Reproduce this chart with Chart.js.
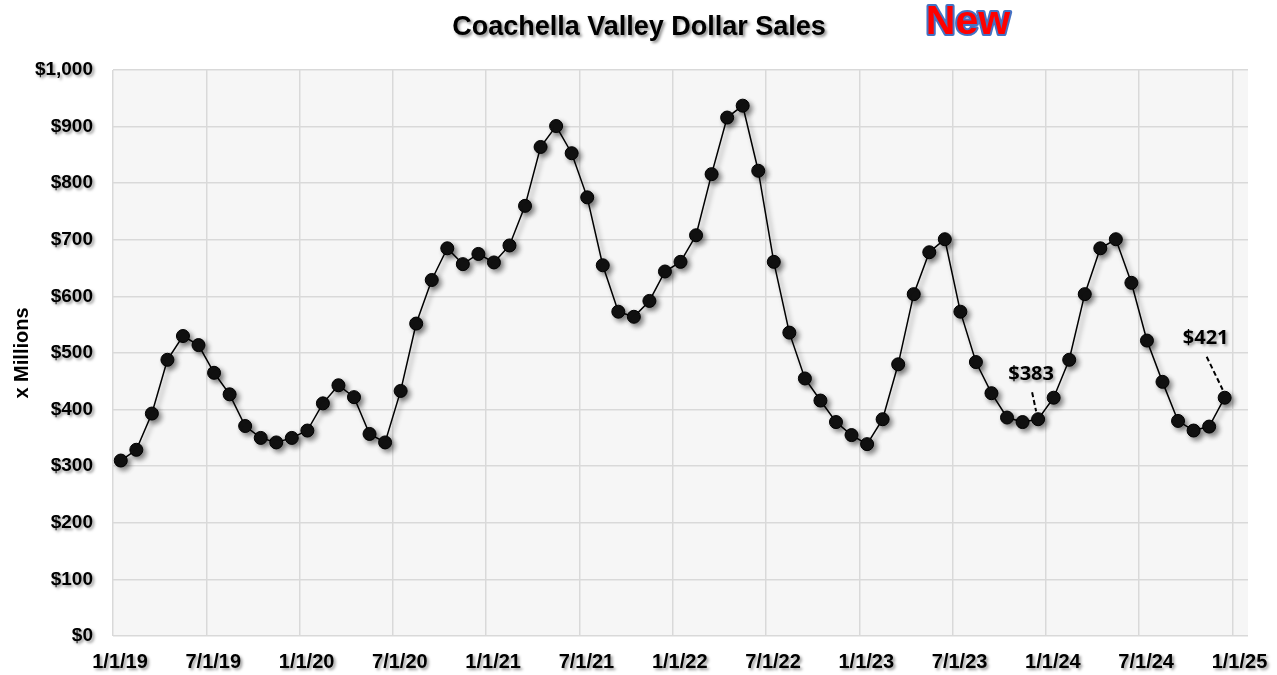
<!DOCTYPE html>
<html>
<head>
<meta charset="utf-8">
<title>Coachella Valley Dollar Sales</title>
<script src="https://cdn.jsdelivr.net/npm/chart.js@4.4.1/dist/chart.umd.min.js"></script>
<style>
    body { margin: 0; background: #ffffff; }
    #wrap { width: 1277px; height: 675px; }
</style>
</head>
<body>
<div id="wrap"><canvas id="sales-chart" width="1277" height="675"></canvas></div>
<script>
// Monthly dollar sales, x millions (Jan 2019 - Dec 2024)
const years = ['19', '20', '21', '22', '23', '24'];
const months = [];
years.forEach(y => {
    for (let m = 1; m <= 12; m++) months.push(m + '/15/' + y);
});

const sales = [
    310, 329, 393, 488, 530, 514, 465, 427, 371, 350, 342, 350,
    363, 411, 443, 422, 357, 342, 433, 552, 629, 685, 657, 675,
    660, 690, 760, 864, 901, 853, 775, 655, 573, 564, 592, 644,
    661, 708, 816, 916, 937, 822, 661, 536, 455, 416, 378, 355,
    339, 383, 480, 604, 678, 701, 573, 484, 429, 386, 378, 383,
    421, 488, 604, 685, 701, 624, 522, 449, 380, 363, 370, 421
];

const xTickLabels = ['1/1/19', '7/1/19', '1/1/20', '7/1/20', '1/1/21', '7/1/21', '1/1/22',
    '7/1/22', '1/1/23', '7/1/23', '1/1/24', '7/1/24', '1/1/25'];

// points that get a callout label
const calloutIndex = [59, 71];

const FONT = '"Liberation Sans", Arial, sans-serif';

// callout placement relative to the point (pixels)
const calloutStyle = {
    59: { dx: -7, dy: -45, line: [-6, -27, -2, -8] },
    71: { dx: -19, dy: -59, line: [-18, -41, -2, -8] }
};

function setShadow(ctx, blur, off, color) {
    ctx.shadowColor = color;
    ctx.shadowBlur = blur;
    ctx.shadowOffsetX = off;
    ctx.shadowOffsetY = off;
}

// plot background + titles
const decorPlugin = {
    id: 'decor',
    beforeDraw(chart) {
        const { ctx, chartArea: a } = chart;
        ctx.save();
        ctx.fillStyle = '#f6f6f6';
        ctx.fillRect(a.left, a.top, a.right - a.left, a.bottom - a.top);
        ctx.restore();
    },
    afterDraw(chart) {
        const ctx = chart.ctx;
        ctx.save();
        ctx.textAlign = 'center';
        ctx.textBaseline = 'middle';
        setShadow(ctx, 3, 2, 'rgba(0,0,0,0.45)');
        ctx.fillStyle = '#000';
        ctx.font = 'bold 27px ' + FONT;
        ctx.fillText('Coachella Valley Dollar Sales', 639, 28);
        ctx.restore();

        ctx.save();
        ctx.textAlign = 'center';
        ctx.textBaseline = 'middle';
        ctx.font = 'bold 41px ' + FONT;
        ctx.lineJoin = 'round';
        ctx.lineWidth = 4;
        ctx.strokeStyle = '#4472c4';
        ctx.strokeText('New', 968, 23);
        ctx.fillStyle = '#ff0000';
        ctx.fillText('New', 968, 23);
        ctx.restore();

        // callouts
        const meta = chart.getDatasetMeta(0);
        calloutIndex.forEach(i => {
            const pt = meta.data[i];
            const st = calloutStyle[i];
            ctx.save();
            ctx.setLineDash([5, 3]);
            ctx.lineWidth = 2;
            ctx.strokeStyle = '#000';
            ctx.beginPath();
            ctx.moveTo(pt.x + st.line[0], pt.y + st.line[1]);
            ctx.lineTo(pt.x + st.line[2], pt.y + st.line[3]);
            ctx.stroke();
            ctx.restore();
            ctx.save();
            setShadow(ctx, 3, 2, 'rgba(0,0,0,0.35)');
            ctx.font = 'bold 20px "Open Sans", "Noto Sans", sans-serif';
            ctx.textAlign = 'center';
            ctx.textBaseline = 'middle';
            ctx.fillStyle = '#000';
            ctx.fillText('$' + sales[i], pt.x + st.dx, pt.y + st.dy);
            ctx.restore();
        });
    }
};

// drop shadow for line + markers
const shadowPlugin = {
    id: 'shadow',
    beforeDatasetDraw(chart) {
        chart.ctx.save();
        setShadow(chart.ctx, 5, 3, 'rgba(0,0,0,0.45)');
    },
    afterDatasetDraw(chart) {
        chart.ctx.restore();
    },
    afterUpdate(chart) {
        // shadowed tick labels
        Object.values(chart.scales).forEach(scale => {
            if (scale._shadowed) return;
            const orig = scale.drawLabels;
            scale.drawLabels = function (area) {
                const ctx = this.ctx;
                ctx.save();
                setShadow(ctx, 3, 2, 'rgba(0,0,0,0.4)');
                orig.call(this, area);
                ctx.restore();
            };
            scale._shadowed = true;
        });
    }
};

const ctx = document.getElementById('sales-chart').getContext('2d');
new Chart(ctx, {
    type: 'line',
    data: {
        labels: months,
        datasets: [{
            label: 'Dollar Sales',
            data: sales.map((v, i) => ({ x: i + 0.5, y: v })),
            borderColor: '#000',
            borderWidth: 1.5,
            pointRadius: 6.5,
            pointBackgroundColor: '#111',
            pointBorderColor: '#000',
            pointBorderWidth: 1,
            tension: 0,
            fill: false
        }]
    },
    options: {
        responsive: false,
        animation: false,
        layout: { padding: { top: 70, right: 29, left: 0, bottom: 0 } },
        plugins: {
            legend: { display: false },
            tooltip: { enabled: false }
        },
        scales: {
            x: {
                type: 'linear',
                min: 0,
                max: 73,
                afterFit: s => { s.height = 39; },
                border: { display: false },
                grid: { drawTicks: false, color: '#d9d9d9', lineWidth: 1.5 },
                ticks: {
                    stepSize: 6,
                    includeBounds: false,
                    autoSkip: false,
                    maxRotation: 0,
                    padding: 14,
                    labelOffset: 7,
                    color: '#000',
                    font: { family: FONT, size: 20, weight: 'bold' },
                    callback: v => (v % 6 === 0 ? xTickLabels[v / 6] : '')
                }
            },
            y: {
                min: 0,
                max: 1000,
                afterFit: s => { s.width = 113; },
                border: { display: false },
                grid: { drawTicks: false, color: '#d9d9d9', lineWidth: 1.5 },
                title: {
                    display: true,
                    text: 'x Millions',
                    color: '#000',
                    font: { family: FONT, size: 20, weight: 'bold' },
                    padding: { top: 10, bottom: 0 }
                },
                ticks: {
                    stepSize: 100,
                    padding: 20,
                    color: '#000',
                    font: { family: FONT, size: 19, weight: 'bold' },
                    callback: v => '$' + v.toLocaleString('en-US')
                }
            }
        }
    },
    plugins: [decorPlugin, shadowPlugin]
});
</script>
</body>
</html>
